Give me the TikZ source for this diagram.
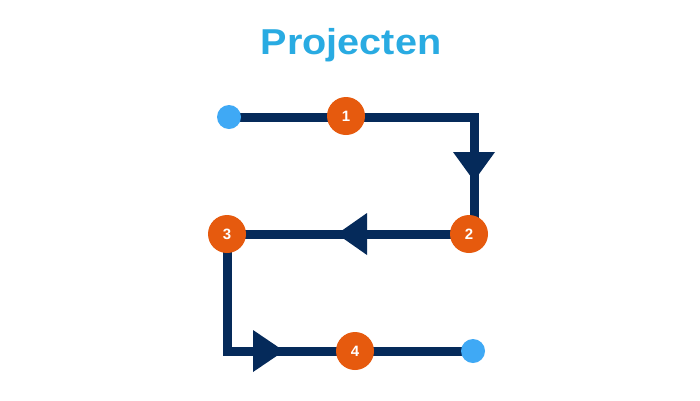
\documentclass[tikz,border=0pt]{standalone}
\usepackage{fontspec}
\setmainfont{Liberation Sans}
\definecolor{navy}{HTML}{052A5A}
\definecolor{orng}{HTML}{E65A0E}
\definecolor{dotblue}{HTML}{3FA9F5}
\definecolor{titleblue}{HTML}{29ABE2}
\begin{document}
\begin{tikzpicture}[x=1pt,y=-1pt,
  pathline/.style={draw=navy,line width=9pt,line join=miter},
  tri/.style={fill=navy,draw=none},
  numnode/.style={circle,fill=orng,draw=none,minimum size=38pt,inner sep=0pt,text=white,font=\bfseries\fontsize{15}{15}\selectfont},
  enddot/.style={circle,fill=dotblue,draw=none,minimum size=24pt,inner sep=0pt}]
\useasboundingbox[fill=white] (0,0) rectangle (700,400);
\node[font=\bfseries\fontsize{36}{36}\selectfont,text=titleblue,xscale=1.1] (title) at (351,45) {Projecten};
\coordinate (s) at (229,117);
\coordinate (a) at (474,117);
\coordinate (b) at (474,234);
\coordinate (c) at (227,234);
\coordinate (d) at (227,351);
\coordinate (e) at (473,351);
\draw[pathline] (s) -- (a) -- (b) -- (c) -- (d) -- (e);
\fill[tri] (453,152) -- (495,152) -- (474,181) -- cycle;
\fill[tri] (337,234) -- (367,213) -- (367,255) -- cycle;
\fill[tri] (253,330) -- (253,372) -- (284,351) -- cycle;
\node[enddot] (start) at (s) {};
\node[enddot] (end) at (e) {};
\node[numnode] (n1) at (346,116) {1};
\node[numnode] (n2) at (469,234) {2};
\node[numnode] (n3) at (227,234) {3};
\node[numnode] (n4) at (355,351) {4};
\end{tikzpicture}
\end{document}
